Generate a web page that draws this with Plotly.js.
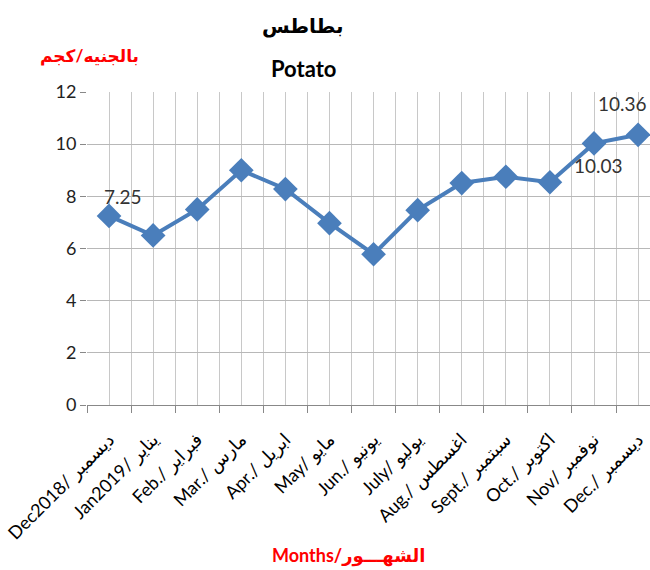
<!DOCTYPE html>
<html>
<head>
<meta charset="utf-8">
<script src="https://cdn.plot.ly/plotly-3.0.1.min.js"></script>
<style>html,body{margin:0;padding:0;background:#fff;}#chart{width:650px;height:570px;}</style>
</head>
<body>
<div id="chart"></div>
<script>
var months = ["Dec2018/ ديسمبر", "Jan2019/ يناير", "Feb./ فبراير", "Mar./ مارس", "Apr./ ابريل", "May/ مايو", "Jun./ يونيو", "July/ يوليو", "Aug./ اغسطس", "Sept./ سبتمبر", "Oct./ اكتوبر", "Nov/ نوفمبر", "Dec./ ديسمبر"];
var prices = [7.25, 6.5, 7.5, 9.0, 8.28, 6.97, 5.78, 7.47, 8.51, 8.75, 8.54, 10.03, 10.36];
var labelIdx = [0, 11, 12];
var labelShiftX = [14, 4, -16];
var labelShiftY = [19, -22, 31];

var xIdx = months.map(function(_, i){ return i; });
var FONT = "Lato, 'Open Sans', 'DejaVu Sans', sans-serif";

var trace = {
  x: xIdx, y: prices, type: 'scatter', mode: 'lines+markers',
  line: {color: '#4A7EBB', width: 4},
  marker: {symbol: 'diamond', size: 19, color: '#4A7EBB'},
  hoverinfo: 'skip', cliponaxis: false
};

var anns = labelIdx.map(function(i, k){
  return {x: xIdx[i], y: prices[i], xref: 'x', yref: 'y', text: prices[i].toFixed(2),
    showarrow: false, xshift: labelShiftX[k], yshift: labelShiftY[k],
    font: {family: FONT, size: 19, color: '#333'}};
});
anns.push({x: 0.384, y: 1.211, xref: 'paper', yref: 'paper', yanchor: 'middle', showarrow: false,
  xanchor: 'center', text: '<b>بطاطس</b>', font: {family: FONT, size: 20, color: '#000'}});
anns.push({x: 0.384, y: 1.076, xref: 'paper', yref: 'paper', yanchor: 'middle', showarrow: false,
  xanchor: 'center', text: '<b>Potato</b>', font: {family: FONT, size: 22, color: '#000'}});
anns.push({x: 0.0036, y: 1.118, xref: 'paper', yref: 'paper', yanchor: 'middle', showarrow: false,
  xanchor: 'center', text: '<b>بالجنيه/كجم</b>', font: {family: FONT, size: 17, color: '#FF0000'}});
anns.push({x: 0.465, y: -0.482, xref: 'paper', yref: 'paper', yanchor: 'middle', showarrow: false,
  xanchor: 'center', text: '<b>Months/الشهـــور</b>', font: {family: FONT, size: 18, color: '#FF0000'}});

var layout = {
  width: 650, height: 570,
  margin: {l: 87, r: 0, t: 92, b: 165},
  paper_bgcolor: '#fff', plot_bgcolor: '#fff',
  showlegend: false,
  xaxis: {
    range: [-0.5, 12.27], tickvals: xIdx, ticktext: months, tickangle: -45,
    ticks: 'outside', ticklen: 16, tickcolor: 'rgba(0,0,0,0)',
    ticklabeloverflow: 'allow',
    showgrid: true, gridcolor: '#C8C8C8', gridwidth: 1,
    tickfont: {family: FONT, size: 18, color: '#000'},
    showline: true, linecolor: '#888', zeroline: false,
    minor: {tick0: -0.5, dtick: 1, ticks: 'outside', ticklen: 7, tickcolor: '#888', showgrid: true, gridcolor: '#C8C8C8'}
  },
  yaxis: {
    range: [0, 12], dtick: 2, ticks: 'outside', ticklen: 6, tickcolor: '#888',
    showgrid: true, gridcolor: '#B8B8B8', zeroline: false, showline: false,
    tickfont: {family: FONT, size: 18, color: '#222'}
  },
  annotations: anns
};

Plotly.newPlot('chart', [trace], layout, {displayModeBar: false, staticPlot: true});
</script>
</body>
</html>
